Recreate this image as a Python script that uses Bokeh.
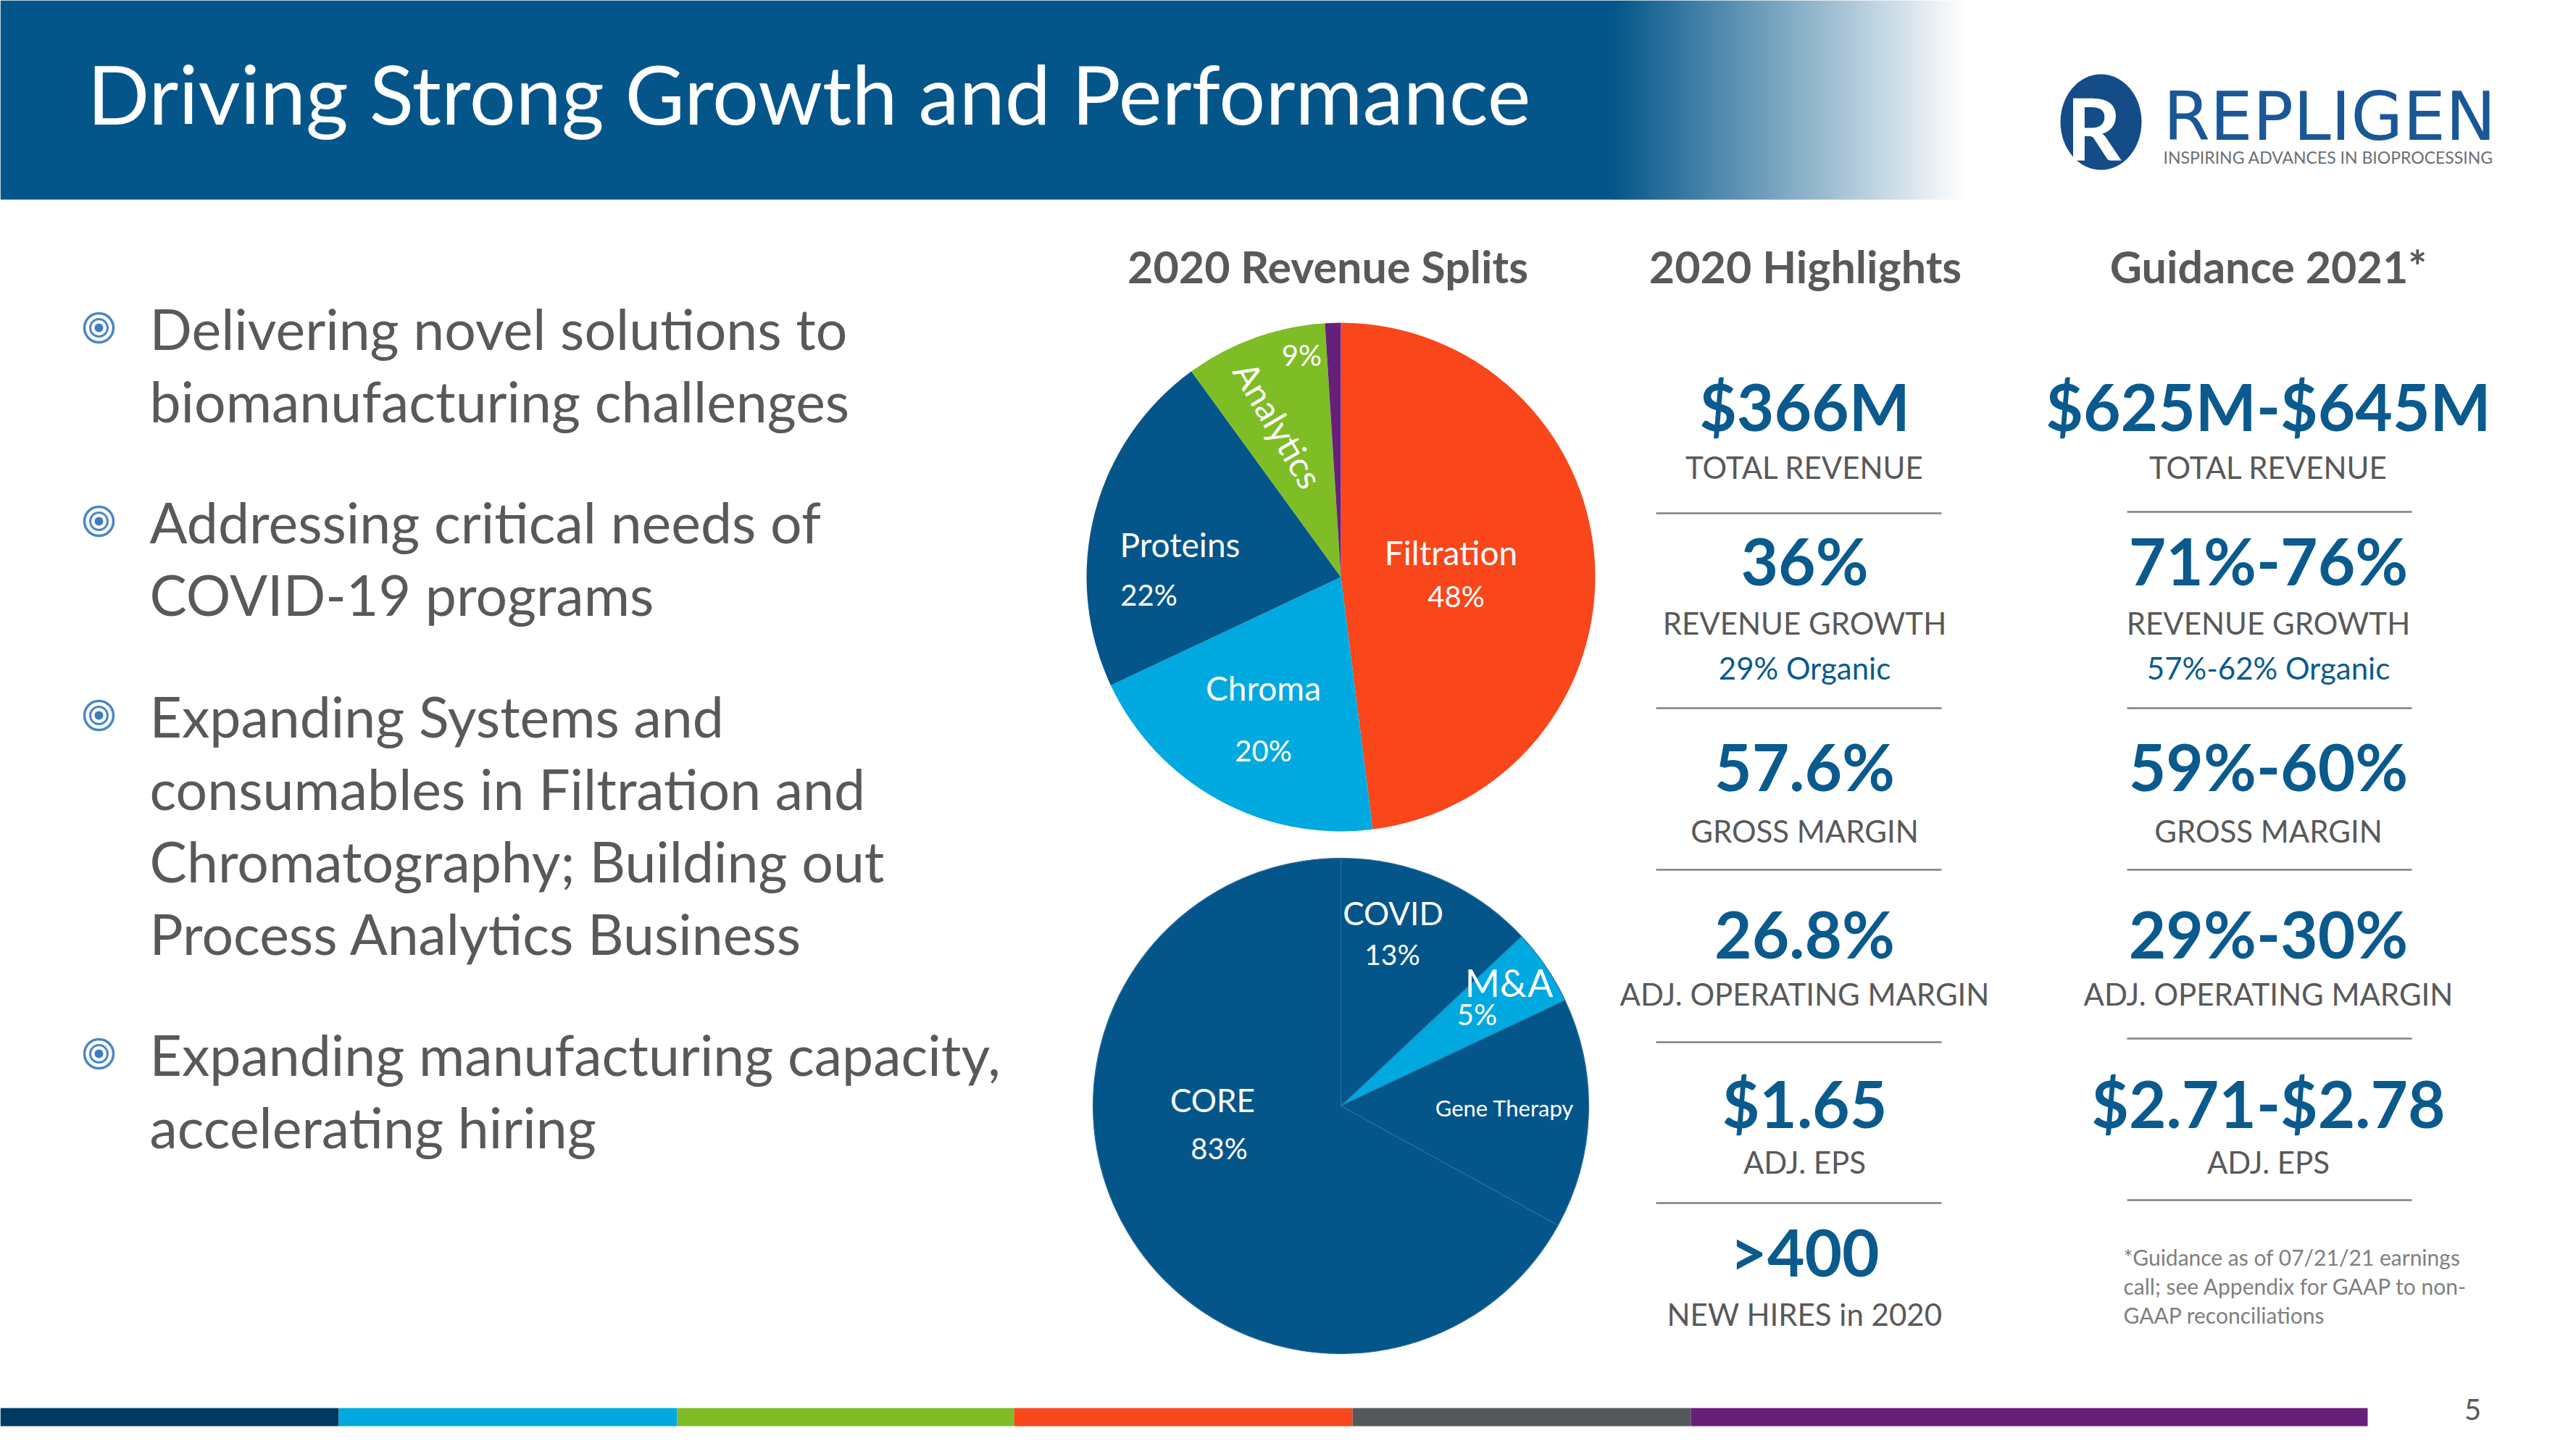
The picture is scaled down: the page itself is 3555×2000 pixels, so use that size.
import numpy as np
from bokeh.plotting import figure
from bokeh.models import Range1d
from bokeh.core.properties import value
from bokeh.embed import file_html
from bokeh.resources import INLINE

# ---------------- data ----------------
title = "Driving Strong Growth and Performance"

bullets = [
    ["Delivering novel solutions to", "biomanufacturing challenges"],
    ["Addressing critical needs of", "COVID-19 programs"],
    ["Expanding Systems and", "consumables in Filtration and",
     "Chromatography; Building out", "Process Analytics Business"],
    ["Expanding manufacturing capacity,", "accelerating hiring"],
]

rev_categories = ["Filtration", "Chroma", "Proteins", "Analytics", "Other"]
rev_values = [48, 20, 22, 9, 1]
rev_colors = ["#F9461A", "#00A9E0", "#04568A", "#7EBD26", "#66207A"]

mix_categories = ["COVID", "M&A", "Gene Therapy", "CORE"]
mix_values = [13, 5, 15, 67]
mix_colors = ["#04568A", "#00A9E0", "#04568A", "#04568A"]

hl_values = ["$366M", "36%", "57.6%", "26.8%", "$1.65", ">400"]
hl_labels = ["TOTAL REVENUE", "REVENUE GROWTH", "GROSS MARGIN",
             "ADJ. OPERATING MARGIN", "ADJ. EPS", "NEW HIRES in 2020"]
hl_sub = "29% Organic"

gd_values = ["$625M-$645M", "71%-76%", "59%-60%", "29%-30%", "$2.71-$2.78"]
gd_labels = ["TOTAL REVENUE", "REVENUE GROWTH", "GROSS MARGIN",
             "ADJ. OPERATING MARGIN", "ADJ. EPS"]
gd_sub = "57%-62% Organic"

footnote = ["*Guidance as of 07/21/21 earnings",
            "call; see Appendix for GAAP to non-",
            "GAAP reconciliations"]

bar_colors = ["#003A63", "#00A9E0", "#7EBD26", "#F9461A", "#55585A", "#66207A"]

# ---------------- styles ----------------
BLUE = "#04568A"
VAL_BLUE = "#0A5A8D"
GREY = "#595959"
FONT = "Lato"
W, H = 3555, 2000


def Y(v):
    return H - v


p = figure(width=W - 16, height=H - 16, x_range=Range1d(0, W - 16),
           y_range=Range1d(16, H), output_backend="svg",
           toolbar_location=None, min_border=0)
p.axis.visible = False
p.grid.visible = False
p.outline_line_color = None
p.background_fill_color = "white"
p.border_fill_color = "white"


def txt(x, y, s, size, color, bold=False, align="center", angle=0.0, font=FONT):
    p.text(x=[x], y=[Y(y)], text=[s], text_font=value(font),
           text_font_size=f"{size}px", text_color=color, text_align=align,
           text_baseline="middle", angle=angle,
           text_font_style="bold" if bold else "normal")


# ---------------- header ----------------
grad_x0, grad_x1 = 2225, 2710
p.quad(left=[0], right=[grad_x0 + 1], top=[Y(0)], bottom=[Y(275)],
       fill_color=BLUE, line_color=None)
n = 120
edges = np.linspace(grad_x0, grad_x1, n + 1)
c0 = np.array([4, 86, 138])
cols = []
for i in range(n):
    t = (i + 0.5) / n
    c = (c0 * (1 - t) + 255 * t).astype(int)
    cols.append("#%02x%02x%02x" % tuple(c))
p.quad(left=edges[:-1], right=edges[1:] + 1.0, top=Y(0), bottom=Y(275),
       fill_color=cols, line_color=None)
txt(120, 127, title, 113, "white", align="left")

# logo
p.ellipse(x=[2899], y=[Y(168)], width=[112], height=[132],
          fill_color="#134C86", line_color=None)
txt(2851, 176, "R", 118, "white", bold=True, align="left")
txt(2985, 160, "REPLIGEN", 93, "#1A5797", align="left",
    font="DejaVu Sans")
txt(2985, 216, "INSPIRING ADVANCES IN BIOPROCESSING", 23, "#6D6E71",
    align="left")

# ---------------- bullets ----------------
bullet_y = [452, 719, 987, 1454]
line_gap = 100
for by, lines in zip(bullet_y, bullets):
    p.circle(x=[136], y=[Y(by)], radius=20, fill_color=None,
             line_color="#4A86C6", line_width=3.5)
    p.circle(x=[136], y=[Y(by)], radius=12, fill_color=None,
             line_color="#4A86C6", line_width=3)
    p.circle(x=[136], y=[Y(by)], radius=6, fill_color="#3F7BC0",
             line_color=None)
    for k, ln in enumerate(lines):
        txt(206, by + k * line_gap, ln, 77, GREY, align="left")

# ---------------- pies ----------------
txt(1832, 367, "2020 Revenue Splits", 61, GREY, bold=True)
txt(2491, 367, "2020 Highlights", 61, GREY, bold=True)
txt(3130, 367, "Guidance 2021*", 61, GREY, bold=True)


def pie(cx, cy, r, vals, colors, line_color=None):
    v = np.array(vals, dtype=float)
    frac = v / v.sum()
    cum = np.concatenate([[0], np.cumsum(frac)])
    starts = np.pi / 2 - 2 * np.pi * cum[:-1]
    ends = np.pi / 2 - 2 * np.pi * cum[1:]
    p.wedge(x=cx, y=Y(cy), radius=r, start_angle=starts, end_angle=ends,
            direction="clock", fill_color=colors,
            line_color=line_color if line_color else None, line_width=1.2)


pie(1850, 796, 351, rev_values, rev_colors)
pie(1850, 1526, 342, mix_values, mix_colors, line_color="#2C6E9E")

# top pie labels
txt(2002, 762, "Filtration", 46, "white")
txt(2009, 822, "48%", 40, "white")
txt(1628, 751, "Proteins", 46, "white")
txt(1585, 820, "22%", 40, "white")
txt(1743, 949, "Chroma", 46, "white")
txt(1743, 1035, "20%", 40, "white")
txt(1796, 489, "9%", 40, "white")
txt(1764, 586, "Analytics", 48, "white", angle=-1.04)

# bottom pie labels
txt(1922, 1259, "COVID", 44, "white")
txt(1921, 1316, "13%", 39, "white")
txt(2082, 1355, "M&A", 52, "white")
txt(2038, 1399, "5%", 40, "white")
txt(2076, 1528, "Gene Therapy", 31, "white")
txt(1673, 1517, "CORE", 44, "white")
txt(1682, 1584, "83%", 40, "white")

# ---------------- highlights ----------------
col1_x, col2_x = 2490, 3130
val_y = [560, 773, 1057, 1288, 1522, 1727]
lab_y = [644, 859, 1146, 1371, 1603, 1813]
sub_y = 921
rule1_y = [708, 977, 1200, 1438, 1660]
rule2_y = [706, 977, 1200, 1433, 1656]

for v, l, vy, ly in zip(hl_values, hl_labels, val_y, lab_y):
    txt(col1_x, vy, v, 89, VAL_BLUE, bold=True)
    txt(col1_x, ly, l, 42, GREY)
txt(col1_x, sub_y, hl_sub, 42, VAL_BLUE)

for v, l, vy, ly in zip(gd_values, gd_labels, val_y, lab_y):
    txt(col2_x, vy, v, 89, VAL_BLUE, bold=True)
    txt(col2_x, ly, l, 42, GREY)
txt(col2_x, sub_y, gd_sub, 42, VAL_BLUE)

p.segment(x0=[2285] * 5, x1=[2679] * 5, y0=[Y(v) for v in rule1_y],
          y1=[Y(v) for v in rule1_y], line_color="#7F7F7F", line_width=2.5)
p.segment(x0=[2935] * 5, x1=[3328] * 5, y0=[Y(v) for v in rule2_y],
          y1=[Y(v) for v in rule2_y], line_color="#7F7F7F", line_width=2.5)

for k, ln in enumerate(footnote):
    txt(2930, 1734 + k * 40, ln, 30, "#7F7F7F", align="left")

# ---------------- footer bar ----------------
seg_edges = [0, 467, 934, 1399, 1866, 2333, 3267]
p.quad(left=seg_edges[:-1], right=seg_edges[1:], top=Y(1943), bottom=Y(1968),
       fill_color=bar_colors, line_color=None)
txt(3412, 1945, "5", 40, GREY)

open("out.html", "w").write(file_html(p, INLINE))
